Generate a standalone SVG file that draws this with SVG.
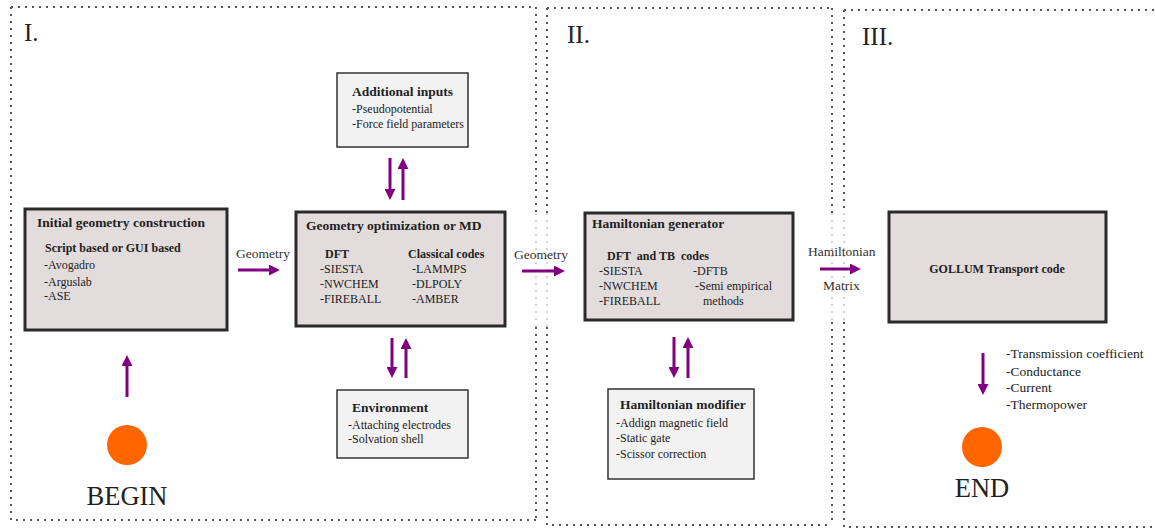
<svg xmlns="http://www.w3.org/2000/svg" width="1155" height="529" viewBox="0 0 1155 529">
<style>
.pd{fill:none;stroke:#555;stroke-width:2;stroke-dasharray:2 5}
.pl{fill:none;stroke:#d4d4d4;stroke-width:2;stroke-dasharray:2 5}
.big{fill:#e2dcdc;stroke:#2a2a2a;stroke-width:3}
.small{fill:#f2f2f2;stroke:#333;stroke-width:1.5}
.t{font-family:"Liberation Serif","Times New Roman",serif;fill:#222}
.h{font-size:13.5px;font-weight:bold}
.s{font-size:12px;font-weight:bold}
.i{font-size:12px}
.o{font-size:13.5px}
.lab{font-family:"Liberation Serif","Times New Roman",serif;font-size:13.5px;fill:#333}
.num{font-family:"Liberation Serif",serif;font-size:25px;fill:#222}
.big2{font-family:"Liberation Serif",serif;font-size:26.5px;fill:#222}
.arr{stroke:#800080;stroke-width:3;fill:none;marker-end:url(#ah)}
.dot{fill:#ff6600}
</style>
<defs>
<marker id="ah" viewBox="0 0 10 10" markerWidth="11" markerHeight="11" markerUnits="userSpaceOnUse" refX="1" refY="5" orient="auto">
<path d="M0,0 L10,5 L0,10 z" fill="#800080"/>
</marker>
</defs>
<rect width="1155" height="529" fill="#fff"/>
<g id="panels">
<path class="pd" d="M11,7 H536 M11,7 V520 H536 M536,7 V213 M536,327 V520"/>
<path class="pl" d="M536,213 V327"/>
<path class="pd" d="M547,8 H832 M547,8 V213 M547,327 V525 H832 M832,8 V213 M832,322 V525"/>
<path class="pl" d="M547,213 V327 M832,213 V322"/>
<path class="pd" d="M844,10 H1160 M844,10 V213 M844,322 V527 H1160"/>
<path class="pl" d="M844,213 V322"/>
<text class="num" x="24" y="41">I.</text>
<text class="num" x="567" y="43">II.</text>
<text class="num" x="862" y="45">III.</text>
</g>
<g id="init">
<rect class="big" x="25" y="209" width="202" height="121"/>
<text class="t h" x="37" y="227">Initial geometry construction</text>
<text class="t s" x="45" y="252">Script based or GUI based</text>
<text class="t i" x="44" y="269">-Avogadro</text>
<text class="t i" x="44" y="286">-Arguslab</text>
<text class="t i" x="44" y="300">-ASE</text>
</g>
<g id="geomopt">
<rect class="big" x="296" y="212" width="209" height="114"/>
<text class="t h" x="306" y="230">Geometry optimization or MD</text>
<text class="t s" x="325" y="258">DFT</text>
<text class="t s" x="408" y="258">Classical codes</text>
<text class="t i" x="320" y="273">-SIESTA</text>
<text class="t i" x="320" y="288">-NWCHEM</text>
<text class="t i" x="320" y="303">-FIREBALL</text>
<text class="t i" x="412" y="273">-LAMMPS</text>
<text class="t i" x="412" y="288">-DLPOLY</text>
<text class="t i" x="412" y="303">-AMBER</text>
</g>
<g id="addinputs">
<rect class="small" x="337" y="73" width="131" height="74"/>
<text class="t h" x="352" y="96">Additional inputs</text>
<text class="t i" x="352" y="113">-Pseudopotential</text>
<text class="t i" x="352" y="128">-Force field parameters</text>
</g>
<g id="environment">
<rect class="small" x="337" y="390" width="131" height="68"/>
<text class="t h" x="352" y="412">Environment</text>
<text class="t i" x="348" y="429">-Attaching electrodes</text>
<text class="t i" x="348" y="443">-Solvation shell</text>
</g>
<g id="hamgen">
<rect class="big" x="585" y="213" width="208" height="107"/>
<text class="t h" x="592" y="228">Hamiltonian generator</text>
<text class="t s" x="607" y="260" xml:space="preserve">DFT  and TB  codes</text>
<text class="t i" x="599" y="275">-SIESTA</text>
<text class="t i" x="599" y="290">-NWCHEM</text>
<text class="t i" x="599" y="305">-FIREBALL</text>
<text class="t i" x="693" y="275">-DFTB</text>
<text class="t i" x="695" y="290">-Semi empirical</text>
<text class="t i" x="703" y="305">methods</text>
</g>
<g id="hammod">
<rect class="small" x="608" y="389" width="146" height="90"/>
<text class="t h" x="620" y="409">Hamiltonian modifier</text>
<text class="t i" x="616" y="427">-Addign magnetic field</text>
<text class="t i" x="616" y="442">-Static gate</text>
<text class="t i" x="616" y="458">-Scissor correction</text>
</g>
<g id="gollum">
<rect class="big" x="889" y="212" width="217" height="110"/>
<text class="t s" x="997" y="273" text-anchor="middle">GOLLUM Transport code</text>
</g>
<g id="begin">
<circle class="dot" cx="127" cy="445" r="20"/>
<text class="big2" x="127" y="505" text-anchor="middle">BEGIN</text>
</g>
<g id="end">
<circle class="dot" cx="982" cy="447" r="20"/>
<text class="big2" x="982" y="497" text-anchor="middle">END</text>
<text class="t o" x="1006" y="358">-Transmission coefficient</text>
<text class="t o" x="1006" y="376">-Conductance</text>
<text class="t o" x="1006" y="392">-Current</text>
<text class="t o" x="1006" y="409">-Thermopower</text>
</g>
<g id="connectors">
<line class="arr" x1="238" y1="270" x2="270" y2="270"/>
<text class="lab" x="236" y="258">Geometry</text>
<line class="arr" x1="522" y1="271" x2="555" y2="271"/>
<text class="lab" x="514" y="259">Geometry</text>
<line class="arr" x1="820" y1="269" x2="851" y2="269"/>
<text class="lab" x="808" y="256">Hamiltonian</text>
<text class="lab" x="823" y="290">Matrix</text>
<line class="arr" x1="390" y1="158" x2="390" y2="190"/>
<line class="arr" x1="403" y1="200" x2="403" y2="168"/>
<line class="arr" x1="392" y1="338" x2="392" y2="368"/>
<line class="arr" x1="406" y1="378" x2="406" y2="348"/>
<line class="arr" x1="674" y1="337" x2="674" y2="368"/>
<line class="arr" x1="688" y1="378" x2="688" y2="347"/>
<line class="arr" x1="127" y1="397" x2="127" y2="365"/>
<line class="arr" x1="983" y1="353" x2="983" y2="385"/>
</g>
</svg>
